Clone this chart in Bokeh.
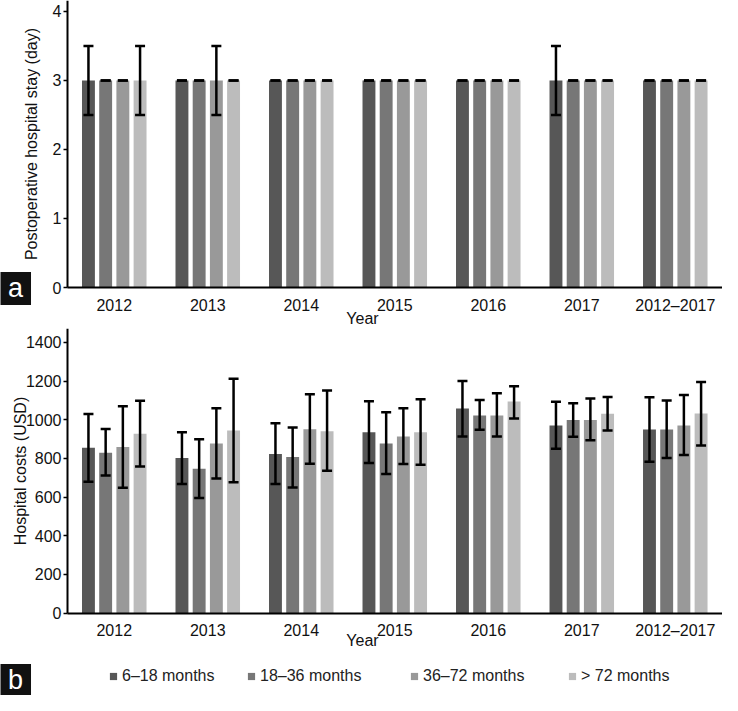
import numpy as np
from bokeh.plotting import figure
from bokeh.models import (ColumnDataSource, Range1d, Whisker, TeeHead,
                          Label, Legend, LegendItem, FixedTicker)
from bokeh.transform import dodge
from bokeh.layouts import column
from bokeh.embed import file_html
from bokeh.resources import INLINE

# ---------------- data ----------------
years = ["2012", "2013", "2014", "2015", "2016", "2017", "2012–2017"]
groups = ["6–18 months", "18–36 months", "36–72 months", "> 72 months"]

# (a) postoperative hospital stay (day)
stay_6_18 = [3, 3, 3, 3, 3, 3, 3]
stay_6_18_hi = [3.5, 3, 3, 3, 3, 3.5, 3]
stay_6_18_lo = [2.5, 3, 3, 3, 3, 2.5, 3]
stay_18_36 = [3, 3, 3, 3, 3, 3, 3]
stay_18_36_hi = [3, 3, 3, 3, 3, 3, 3]
stay_18_36_lo = [3, 3, 3, 3, 3, 3, 3]
stay_36_72 = [3, 3, 3, 3, 3, 3, 3]
stay_36_72_hi = [3, 3.5, 3, 3, 3, 3, 3]
stay_36_72_lo = [3, 2.5, 3, 3, 3, 3, 3]
stay_72 = [3, 3, 3, 3, 3, 3, 3]
stay_72_hi = [3.5, 3, 3, 3, 3, 3, 3]
stay_72_lo = [2.5, 3, 3, 3, 3, 3, 3]

# (b) hospital costs (USD)
cost_6_18 = [855, 803, 823, 936, 1058, 971, 950]
cost_6_18_hi = [1030, 936, 982, 1096, 1201, 1093, 1117]
cost_6_18_lo = [680, 668, 668, 776, 914, 850, 783]
cost_18_36 = [830, 747, 807, 877, 1022, 999, 950]
cost_18_36_hi = [953, 899, 960, 1039, 1102, 1086, 1100]
cost_18_36_lo = [712, 596, 650, 720, 948, 913, 803]
cost_36_72 = [859, 877, 951, 914, 1022, 999, 971]
cost_36_72_hi = [1070, 1060, 1132, 1060, 1137, 1110, 1128]
cost_36_72_lo = [648, 697, 773, 771, 914, 894, 818]
cost_72 = [928, 945, 941, 936, 1095, 1031, 1032]
cost_72_hi = [1098, 1213, 1151, 1107, 1174, 1118, 1196]
cost_72_lo = [759, 677, 736, 768, 1007, 945, 867]

stay_ticks = [0, 1, 2, 3, 4]
cost_ticks = [0, 200, 400, 600, 800, 1000, 1200, 1400]

# ---------------- style ----------------
colors = ["#575757", "#777777", "#999999", "#bcbcbc"]
offsets = [-0.276, -0.092, 0.092, 0.276]
bar_w = 0.138
FONT = "Liberation Sans"
W = 722
X_START, X_END = -0.7166, 7.005

# numeric category positions (centre of each category slot)
xc = [i + 0.5 for i in range(len(years))]
year_labels = {xc[i]: years[i] for i in range(len(years))}

src_a = ColumnDataSource(dict(
    xc=xc,
    v0=stay_6_18, hi0=stay_6_18_hi, lo0=stay_6_18_lo,
    v1=stay_18_36, hi1=stay_18_36_hi, lo1=stay_18_36_lo,
    v2=stay_36_72, hi2=stay_36_72_hi, lo2=stay_36_72_lo,
    v3=stay_72, hi3=stay_72_hi, lo3=stay_72_lo,
))
src_b = ColumnDataSource(dict(
    xc=xc,
    v0=cost_6_18, hi0=cost_6_18_hi, lo0=cost_6_18_lo,
    v1=cost_18_36, hi1=cost_18_36_hi, lo1=cost_18_36_lo,
    v2=cost_36_72, hi2=cost_36_72_hi, lo2=cost_36_72_lo,
    v3=cost_72, hi3=cost_72_hi, lo3=cost_72_lo,
))


def make_panel(src, height, y_start, y_end, y_top, ticks, ylabel, ylabel_standoff,
               letter, letter_y, year_y):
    p = figure(x_range=Range1d(X_START, X_END), y_range=Range1d(y_start, y_end),
               width=W, height=height, output_backend="svg",
               toolbar_location=None, min_border=0)
    p.xgrid.visible = False
    p.ygrid.visible = False
    p.outline_line_color = None
    p.background_fill_color = "white"
    p.border_fill_color = "white"

    for ax in (p.xaxis[0], p.yaxis[0]):
        ax.fixed_location = 0
        ax.axis_line_color = "black"
        ax.axis_line_width = 2
        ax.major_label_text_font = FONT
        ax.major_label_text_font_size = "16px"
        ax.major_label_text_color = "#111111"
        ax.minor_tick_line_color = None
    xa, ya = p.xaxis[0], p.yaxis[0]
    xa.bounds = (0, X_END)
    xa.ticker = FixedTicker(ticks=xc)
    xa.major_label_overrides = year_labels
    xa.major_tick_line_color = None
    xa.major_label_standoff = 3
    ya.bounds = (0, y_top)
    ya.ticker = FixedTicker(ticks=ticks)
    ya.major_tick_in = 0
    ya.major_tick_out = 4
    ya.major_tick_line_width = 1.5
    ya.major_label_standoff = 2
    ya.axis_label = ylabel
    ya.axis_label_text_font = FONT
    ya.axis_label_text_font_size = "16px"
    ya.axis_label_text_font_style = "normal"
    ya.axis_label_text_color = "#111111"
    ya.axis_label_standoff = ylabel_standoff

    bars = []
    for i, off in enumerate(offsets):
        r = p.vbar(x=dodge("xc", off), top=f"v{i}", width=bar_w,
                   source=src, fill_color=colors[i], line_color=None)
        bars.append(r)
    for i, off in enumerate(offsets):
        w = Whisker(source=src, base=dodge("xc", off),
                    upper=f"hi{i}", lower=f"lo{i}", dimension="height",
                    line_color="black", line_width=2.5, level="overlay",
                    upper_head=TeeHead(size=10, line_color="black", line_width=2.5),
                    lower_head=TeeHead(size=10, line_color="black", line_width=2.5))
        p.add_layout(w)

    p.add_layout(Label(x=362, y=year_y, x_units="screen", y_units="screen",
                       text="Year", text_font=FONT, text_font_size="16px",
                       text_color="#111111", text_align="center",
                       text_baseline="middle"))
    p.add_layout(Label(x=15, y=letter_y, x_units="screen", y_units="screen",
                       text=letter, text_font=FONT, text_font_size="27px",
                       text_color="white", text_align="center",
                       text_baseline="middle",
                       background_fill_color="#111111",
                       padding=dict(left=8, right=8, top=1, bottom=2)))
    return p, bars


pa, bars_a = make_panel(src_a, 328, -0.594, 4.159, 4.159, stay_ticks,
                        "Postoperative hospital stay (day)", 10, "a", 40, 10)
pb, bars_b = make_panel(src_b, 367, -426.3, 1472.4, 1472, cost_ticks,
                        "Hospital costs (USD)", -6, "b", 15, 55)

# legend swatches: small squares (proxy renderers with no visible point)
legend_x = [104, 242, 405, 563]
for i, g in enumerate(groups):
    sw = pb.scatter(x=np.array([np.nan]), y=np.array([np.nan]), marker="square",
                    size=7, fill_color=colors[i], line_color=None)
    leg = Legend(items=[LegendItem(label=g, renderers=[sw])],
                 location=(legend_x[i], 9), orientation="horizontal",
                 border_line_color=None, background_fill_alpha=0,
                 padding=0, margin=0, spacing=0, label_standoff=0,
                 glyph_width=18, glyph_height=18, label_height=20,
                 label_text_font=FONT, label_text_font_size="16px",
                 label_text_color="#222222")
    pb.add_layout(leg)

layout = column(pa, pb)
open("out.html", "w").write(file_html(layout, INLINE))
